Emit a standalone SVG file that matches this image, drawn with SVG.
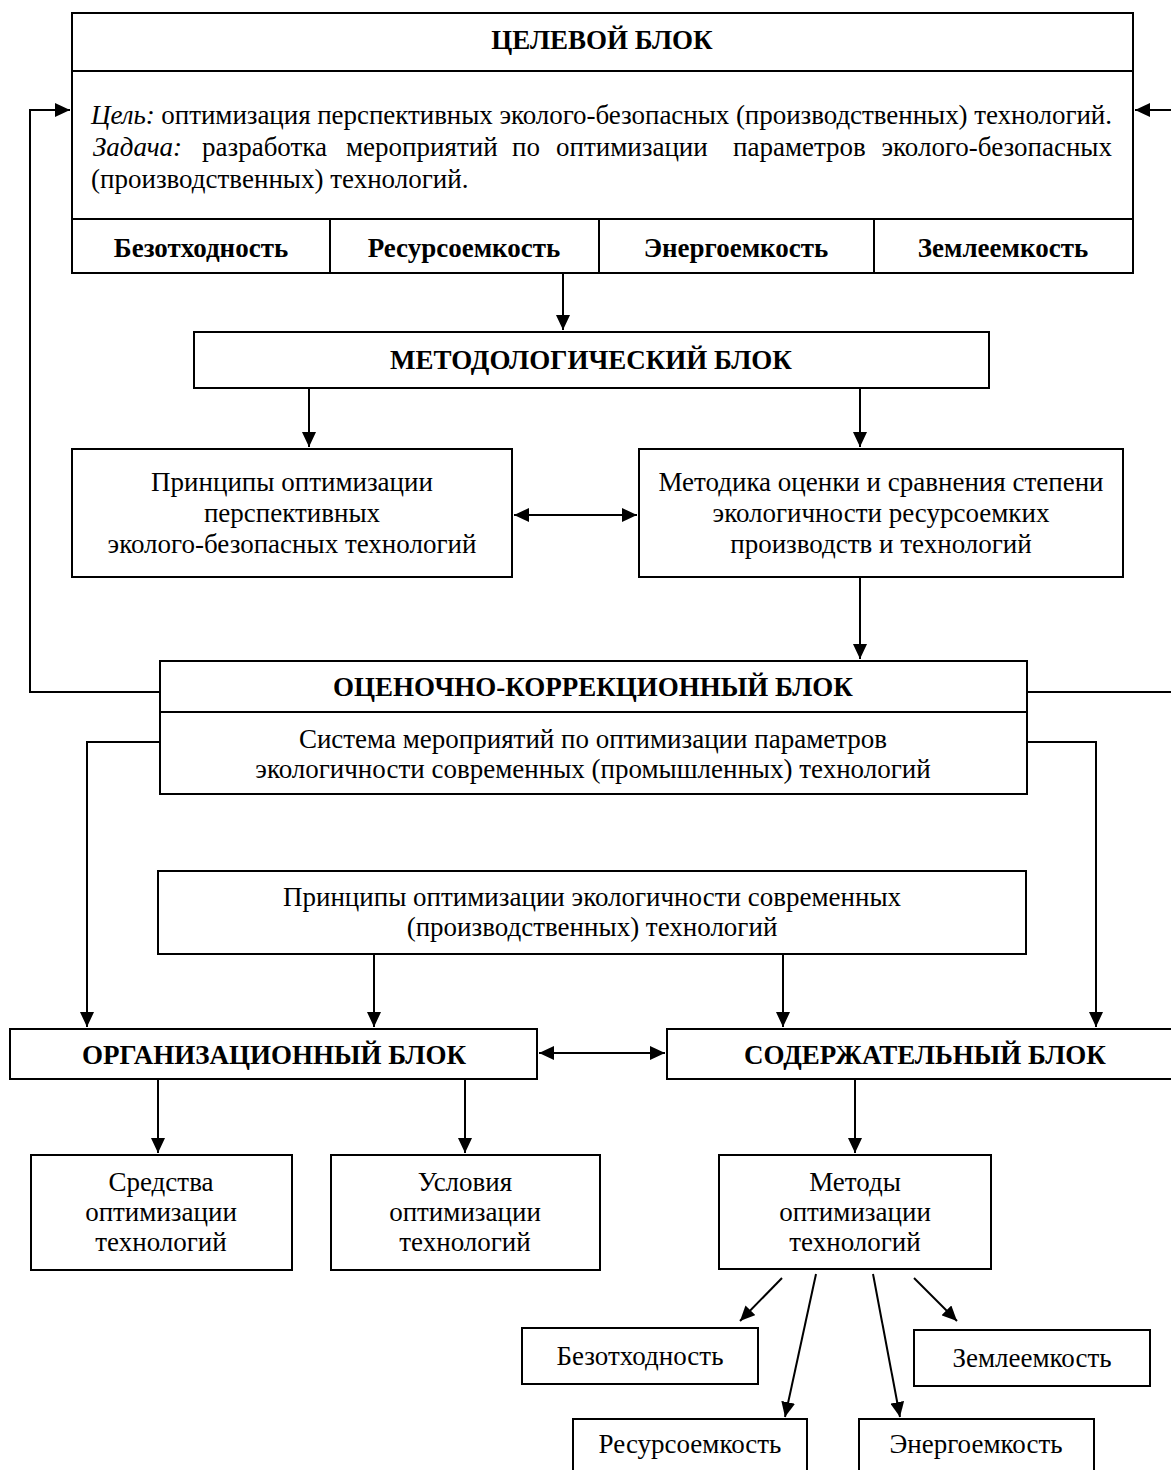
<svg xmlns="http://www.w3.org/2000/svg" width="1171" height="1470" viewBox="0 0 1171 1470">
<style>
  .box { fill: #fff; stroke: #000; stroke-width: 2; }
  .ln { fill: none; stroke: #000; stroke-width: 2; }
  text { font-family: "Liberation Serif", "Times New Roman", serif; font-size: 27px; fill: #000; }
  .b { font-weight: bold; }
  .c { text-anchor: middle; }
  .i { font-style: italic; }
</style>
<defs>
  <marker id="ah" markerUnits="userSpaceOnUse" markerWidth="16" markerHeight="14" refX="15" refY="7" orient="auto">
    <path d="M0,0 L15,7 L0,14 z" fill="#000"/>
  </marker>
  <marker id="as" markerUnits="userSpaceOnUse" markerWidth="16" markerHeight="14" refX="0" refY="7" orient="auto">
    <path d="M15,0 L0,7 L15,14 z" fill="#000"/>
  </marker>
</defs>
<rect width="1171" height="1470" fill="#fff"/>

<g id="connectors">
  <path class="ln" d="M160,692 H30 V110 H70" marker-end="url(#ah)"/>
  <path class="ln" d="M1027,692 H1175 V110 H1135" marker-end="url(#ah)"/>
  <path class="ln" d="M563,274 V330" marker-end="url(#ah)"/>
  <path class="ln" d="M309,388 V447" marker-end="url(#ah)"/>
  <path class="ln" d="M860,388 V447" marker-end="url(#ah)"/>
  <path class="ln" d="M514,515 H637" marker-start="url(#as)" marker-end="url(#ah)"/>
  <path class="ln" d="M860,577 V659" marker-end="url(#ah)"/>
  <path class="ln" d="M160,742 H87 V1027" marker-end="url(#ah)"/>
  <path class="ln" d="M1027,742 H1096 V1027" marker-end="url(#ah)"/>
  <path class="ln" d="M374,954 V1027" marker-end="url(#ah)"/>
  <path class="ln" d="M783,954 V1027" marker-end="url(#ah)"/>
  <path class="ln" d="M539,1053 H665" marker-start="url(#as)" marker-end="url(#ah)"/>
  <path class="ln" d="M158,1079 V1153" marker-end="url(#ah)"/>
  <path class="ln" d="M465,1079 V1153" marker-end="url(#ah)"/>
  <path class="ln" d="M855,1079 V1153" marker-end="url(#ah)"/>
  <path class="ln" d="M782,1278 L740,1321" marker-end="url(#ah)"/>
  <path class="ln" d="M816,1274 L785,1417" marker-end="url(#ah)"/>
  <path class="ln" d="M873,1274 L900,1417" marker-end="url(#ah)"/>
  <path class="ln" d="M914,1278 L957,1321" marker-end="url(#ah)"/>
</g>

<g id="target-block">
  <rect class="box" x="72" y="13" width="1061" height="260"/>
  <path class="ln" d="M72,71 H1133 M72,219 H1133 M330,219 V273 M599,219 V273 M874,219 V273"/>
  <text class="b c" x="602" y="49">ЦЕЛЕВОЙ БЛОК</text>
  <text x="91" y="124" textLength="1021" lengthAdjust="spacing"><tspan class="i">Цель:</tspan> оптимизация перспективных эколого-безопасных (производственных) технологий.</text>
  <text y="156"><tspan x="93" class="i">Задача:</tspan><tspan x="202">разработка</tspan><tspan x="346">мероприятий</tspan><tspan x="512">по</tspan><tspan x="556">оптимизации</tspan><tspan x="733">параметров</tspan></text>
  <text x="1112" y="156" text-anchor="end">эколого-безопасных</text>
  <text x="91" y="188">(производственных) технологий.</text>
  <text class="b c" x="201" y="257">Безотходность</text>
  <text class="b c" x="464" y="257">Ресурсоемкость</text>
  <text class="b c" x="736" y="257">Энергоемкость</text>
  <text class="b c" x="1003" y="257">Землеемкость</text>
</g>

<g id="method-block">
  <rect class="box" x="194" y="332" width="795" height="56"/>
  <text class="b c" x="591" y="369">МЕТОДОЛОГИЧЕСКИЙ БЛОК</text>
</g>

<g id="principles-perspective">
  <rect class="box" x="72" y="449" width="440" height="128"/>
  <text class="c" x="292" y="491">Принципы оптимизации</text>
  <text class="c" x="292" y="522">перспективных</text>
  <text class="c" x="292" y="553">эколого-безопасных технологий</text>
</g>

<g id="methodika">
  <rect class="box" x="639" y="449" width="484" height="128"/>
  <text class="c" x="881" y="491">Методика оценки и сравнения степени</text>
  <text class="c" x="881" y="522">экологичности ресурсоемких</text>
  <text class="c" x="881" y="553">производств и технологий</text>
</g>

<g id="evaluation-block">
  <rect class="box" x="160" y="661" width="867" height="133"/>
  <path class="ln" d="M160,712 H1027"/>
  <text class="b c" x="593" y="696">ОЦЕНОЧНО-КОРРЕКЦИОННЫЙ БЛОК</text>
  <text class="c" x="593" y="748">Система мероприятий по оптимизации параметров</text>
  <text class="c" x="593" y="778">экологичности современных (промышленных) технологий</text>
</g>

<g id="principles-modern">
  <rect class="box" x="158" y="871" width="868" height="83"/>
  <text class="c" x="592" y="906">Принципы оптимизации экологичности современных</text>
  <text class="c" x="592" y="936">(производственных) технологий</text>
</g>

<g id="org-block">
  <rect class="box" x="10" y="1029" width="527" height="50"/>
  <text class="b c" x="274" y="1064">ОРГАНИЗАЦИОННЫЙ БЛОК</text>
</g>

<g id="content-block">
  <rect class="box" x="667" y="1029" width="516" height="50"/>
  <text class="b c" x="925" y="1064">СОДЕРЖАТЕЛЬНЫЙ БЛОК</text>
</g>

<g id="means">
  <rect class="box" x="31" y="1155" width="261" height="115"/>
  <text class="c" x="161" y="1191">Средства</text>
  <text class="c" x="161" y="1221">оптимизации</text>
  <text class="c" x="161" y="1251">технологий</text>
</g>

<g id="conditions">
  <rect class="box" x="331" y="1155" width="269" height="115"/>
  <text class="c" x="465" y="1191">Условия</text>
  <text class="c" x="465" y="1221">оптимизации</text>
  <text class="c" x="465" y="1251">технологий</text>
</g>

<g id="methods">
  <rect class="box" x="719" y="1155" width="272" height="114"/>
  <text class="c" x="855" y="1191">Методы</text>
  <text class="c" x="855" y="1221">оптимизации</text>
  <text class="c" x="855" y="1251">технологий</text>
</g>

<g id="m-waste">
  <rect class="box" x="522" y="1328" width="236" height="56"/>
  <text class="c" x="640" y="1365">Безотходность</text>
</g>

<g id="m-land">
  <rect class="box" x="914" y="1330" width="236" height="56"/>
  <text class="c" x="1032" y="1367">Землеемкость</text>
</g>

<g id="m-resource">
  <rect class="box" x="573" y="1419" width="234" height="60"/>
  <text class="c" x="690" y="1453">Ресурсоемкость</text>
</g>

<g id="m-energy">
  <rect class="box" x="859" y="1419" width="235" height="60"/>
  <text class="c" x="976" y="1453">Энергоемкость</text>
</g>
</svg>
